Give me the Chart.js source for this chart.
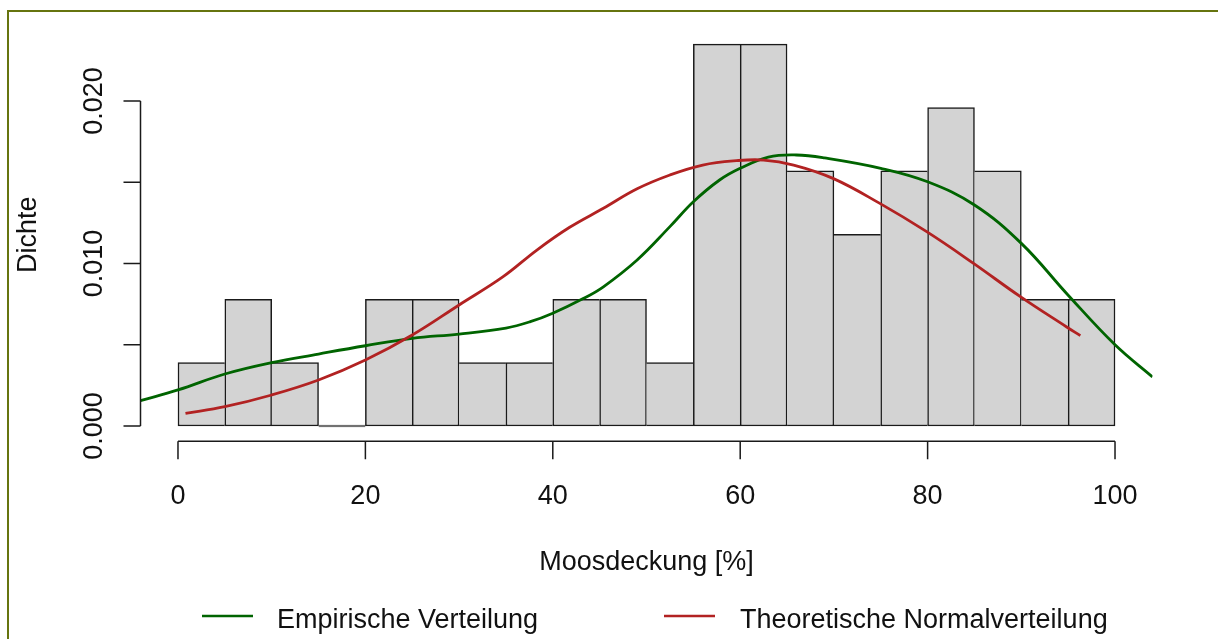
<!DOCTYPE html>
<html>
<head>
<meta charset="utf-8">
<script src="https://cdn.jsdelivr.net/npm/chart.js@4.4.1/dist/chart.umd.min.js"></script>
<style>
  html, body { margin: 0; padding: 0; background: #ffffff; }
  #wrap { position: relative; width: 1218px; height: 639px; overflow: hidden; }
  #frame { position: absolute; left: 7px; top: 10px; width: 1300px; height: 700px;
           border-left: 2px solid #66740f; border-top: 2px solid #66740f; box-sizing: border-box; }
  #box { position: absolute; left: 0; top: 0; width: 1218px; height: 639px; }
</style>
</head>
<body>
<div id="wrap">
  <div id="frame"></div>
  <div id="box"><canvas id="c"></canvas></div>
</div>
<script>
// ---- Data ----
const binCenters = [2.5, 7.5, 12.5, 17.5, 22.5, 27.5, 32.5, 37.5, 42.5, 47.5,
                    52.5, 57.5, 62.5, 67.5, 72.5, 77.5, 82.5, 87.5, 92.5, 97.5];
const binDensity = [0.0039, 0.0078, 0.0039, 0, 0.0078, 0.0078, 0.0039, 0.0039, 0.0078, 0.0078,
                    0.0039, 0.0235, 0.0235, 0.0157, 0.0118, 0.0157, 0.0196, 0.0157, 0.0078, 0.0078];

const empiricalX = [-4, 0, 5, 10, 15, 20, 25, 30, 35, 37.6, 40, 43.3, 45.4, 49, 52.5, 55, 57.8, 60, 63, 66, 69, 75, 80, 85, 90, 95, 100, 104];
const empiricalY = [0.00156, 0.00222, 0.00320, 0.00390, 0.00443, 0.00494, 0.00540, 0.00566, 0.00603, 0.00642, 0.00694, 0.00786, 0.00857, 0.01022, 0.01227, 0.01380, 0.01514, 0.01586, 0.01655, 0.01668, 0.01650, 0.01586, 0.01503, 0.01360, 0.01124, 0.00805, 0.00500, 0.00302];

const normalX = [0.8, 5, 10, 15, 20, 25, 30, 34.7, 38.3, 41.8, 45.4, 49, 52.5, 56, 59.6, 62.5, 65.7, 69.9, 74.9, 79.9, 84.9, 89.9, 94.8, 96.3];
const normalY = [0.00078, 0.00119, 0.00191, 0.00283, 0.00406, 0.00560, 0.00745, 0.00919, 0.01083, 0.01223, 0.01340, 0.01460, 0.01545, 0.01606, 0.01633, 0.01637, 0.01606, 0.01524, 0.01370, 0.01196, 0.01001, 0.00796, 0.00611, 0.00556];

const xTicks = [0, 20, 40, 60, 80, 100];
const xTickLabels = ['0', '20', '40', '60', '80', '100'];
const yTicks = [0, 0.005, 0.010, 0.015, 0.020];
const yTickLabels = ['0.000', '', '0.010', '', '0.020'];
const xLimits = [-4, 104];
const yLimits = [-0.00094, 0.02447];

const xTitle = 'Moosdeckung [%]';
const yTitle = 'Dichte';
const legendLabels = ['Empirische Verteilung', 'Theoretische Normalverteilung'];
const lineColors = ['#006400', '#b22222'];

// ---- build ----
const histData = binCenters.map((x, i) => ({ x: x, y: binDensity[i] }));
const empData = empiricalX.map((x, i) => ({ x: x, y: empiricalY[i] }));
const normData = normalX.map((x, i) => ({ x: x, y: normalY[i] }));

const BW = 1.5;
function barBorder(ctx) {
  const i = ctx.dataIndex;
  if (i === undefined) return BW;
  const cur = binDensity[i];
  const prev = i > 0 ? binDensity[i - 1] : -1;
  const next = i < binDensity.length - 1 ? binDensity[i + 1] : -1;
  return {
    top: BW,
    bottom: BW,
    left: prev <= cur ? BW : 0,
    right: next < cur ? BW : 0
  };
}

const FONT = '27px "Liberation Sans", Arial, sans-serif';

const rAxes = {
  id: 'rAxes',
  afterDraw(chart) {
    const ctx = chart.ctx;
    const xs = chart.scales.x, ys = chart.scales.y;
    const area = chart.chartArea;
    ctx.save();
    ctx.strokeStyle = '#1a1a1a';
    ctx.fillStyle = '#111111';
    ctx.lineWidth = 1.5;
    ctx.font = FONT;

    // x axis
    const yAx = area.bottom;
    ctx.beginPath();
    ctx.moveTo(xs.getPixelForValue(xTicks[0]), yAx);
    ctx.lineTo(xs.getPixelForValue(xTicks[xTicks.length - 1]), yAx);
    xTicks.forEach(v => {
      const p = xs.getPixelForValue(v);
      ctx.moveTo(p, yAx);
      ctx.lineTo(p, yAx + 18);
    });
    ctx.stroke();
    ctx.textAlign = 'center';
    ctx.textBaseline = 'alphabetic';
    xTicks.forEach((v, i) => {
      ctx.fillText(xTickLabels[i], xs.getPixelForValue(v), 504);
    });

    // y axis
    const xAx = area.left;
    ctx.beginPath();
    ctx.moveTo(xAx, ys.getPixelForValue(yTicks[0]));
    ctx.lineTo(xAx, ys.getPixelForValue(yTicks[yTicks.length - 1]));
    yTicks.forEach(v => {
      const p = ys.getPixelForValue(v);
      ctx.moveTo(xAx, p);
      ctx.lineTo(xAx - 17, p);
    });
    ctx.stroke();
    yTicks.forEach((v, i) => {
      if (!yTickLabels[i]) return;
      const p = ys.getPixelForValue(v);
      ctx.save();
      ctx.translate(102, p);
      ctx.rotate(-Math.PI / 2);
      ctx.textAlign = 'center';
      ctx.textBaseline = 'alphabetic';
      ctx.fillText(yTickLabels[i], 0, 0);
      ctx.restore();
    });

    // titles
    ctx.textAlign = 'center';
    ctx.fillText(xTitle, (area.left + area.right) / 2, 570);
    ctx.save();
    ctx.translate(36, (area.top + area.bottom) / 2);
    ctx.rotate(-Math.PI / 2);
    ctx.fillText(yTitle, 0, 0);
    ctx.restore();

    // legend
    const legX = [[202, 253, 277], [664, 715, 740]];
    ctx.lineWidth = 2.5;
    legendLabels.forEach((lab, i) => {
      ctx.strokeStyle = lineColors[i];
      ctx.beginPath();
      ctx.moveTo(legX[i][0], 616);
      ctx.lineTo(legX[i][1], 616);
      ctx.stroke();
      ctx.textAlign = 'left';
      ctx.fillText(lab, legX[i][2], 628);
    });
    ctx.restore();
  }
};

new Chart(document.getElementById('c'), {
  type: 'bar',
  data: {
    datasets: [
      {
        type: 'bar',
        data: histData,
        backgroundColor: '#d3d3d3',
        borderColor: '#1a1a1a',
        borderWidth: barBorder,
        borderSkipped: false,
        barPercentage: 1,
        categoryPercentage: 1,
        minBarLength: 2,
        order: 3
      },
      {
        type: 'line',
        label: legendLabels[0],
        data: empData,
        borderColor: lineColors[0],
        borderWidth: 2.8,
        pointRadius: 0,
        tension: 0.4,
        fill: false,
        order: 2
      },
      {
        type: 'line',
        label: legendLabels[1],
        data: normData,
        borderColor: lineColors[1],
        borderWidth: 2.8,
        pointRadius: 0,
        tension: 0.4,
        fill: false,
        order: 1
      }
    ]
  },
  options: {
    responsive: true,
    maintainAspectRatio: false,
    animation: false,
    layout: { padding: { left: 140.5, right: 65.5, top: 28.4, bottom: 197.7 } },
    plugins: { legend: { display: false }, tooltip: { enabled: false } },
    scales: {
      x: {
        type: 'linear', min: xLimits[0], max: xLimits[1], offset: false, display: false,
        afterBuildTicks: (s) => { s.ticks = xTicks.map(v => ({ value: v })); }
      },
      y: { type: 'linear', min: yLimits[0], max: yLimits[1], display: false }
    }
  },
  plugins: [rAxes]
});
</script>
</body>
</html>
